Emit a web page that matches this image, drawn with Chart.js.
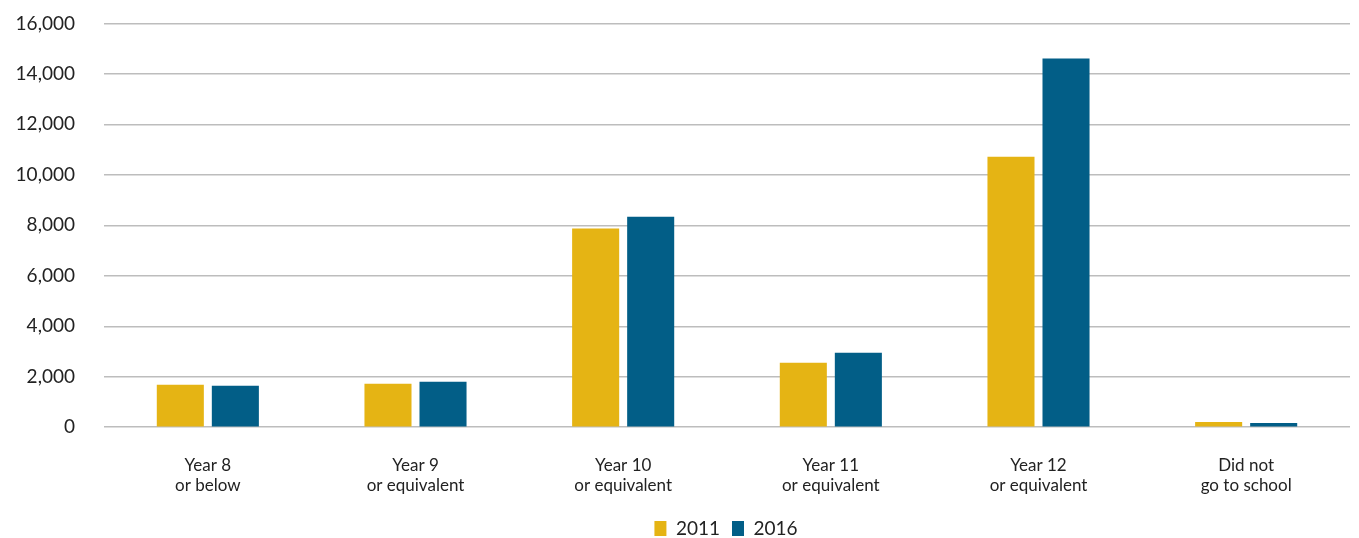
<!DOCTYPE html>
<html>
<head>
<meta charset="utf-8">
<script src="https://cdn.jsdelivr.net/npm/chart.js@4"></script>
<style>
  html, body { margin: 0; padding: 0; background: #fff; }
  #wrap { width: 1359px; height: 538px; }
</style>
</head>
<body>
<div id="wrap"><canvas id="myChart"></canvas></div>
<script>
const categories = [
  ['Year 8', 'or below'],
  ['Year 9', 'or equivalent'],
  ['Year 10', 'or equivalent'],
  ['Year 11', 'or equivalent'],
  ['Year 12', 'or equivalent'],
  ['Did not', 'go to school']
];
const values2011 = [1680, 1720, 7870, 2550, 10720, 210];
const values2016 = [1640, 1800, 8340, 2950, 14610, 170];
const yTicks = [0, 2000, 4000, 6000, 8000, 10000, 12000, 14000, 16000];

// legend takes less room than chart.js gives it, and sits centred under the plot
const legendShift = {
  id: 'legendShift',
  beforeUpdate(chart) {
    const lg = chart.legend;
    if (lg && !lg._squeezed) {
      const fit = lg.fit.bind(lg);
      lg.fit = function () { fit(); this.height -= 19; };
      lg._squeezed = true;
    }
  },
  afterLayout(chart) {
    const lg = chart.legend;
    lg.left += 51; lg.right += 51;
    lg.top -= 9;
  }
};

const ctx = document.getElementById('myChart');

new Chart(ctx, {
  type: 'bar',
  data: {
    labels: categories,
    datasets: [{
      label: '2011',
      data: values2011,
      backgroundColor: '#E5B414',
      categoryPercentage: 0.53,
      barPercentage: 0.855
    }, {
      label: '2016',
      data: values2016,
      backgroundColor: '#025E87',
      categoryPercentage: 0.53,
      barPercentage: 0.855
    }]
  },
  plugins: [legendShift],
  options: {
    responsive: true,
    maintainAspectRatio: false,
    animation: false,
    layout: { padding: { top: 0, right: 9, left: 0, bottom: 0 } },
    plugins: {
      tooltip: { enabled: false },
      legend: {
        position: 'bottom',
        labels: {
          boxWidth: 12,
          boxHeight: 15,
          padding: 12,
          color: '#222',
          font: { family: 'Lato', size: 19 }
        }
      }
    },
    scales: {
      x: {
        grid: { display: false },
        border: { display: false },
        ticks: {
          color: '#222',
          padding: 20,
          font: { family: 'Lato', size: 17, lineHeight: 1.2 }
        }
      },
      y: {
        min: 0,
        max: 16000,
        afterBuildTicks: (axis) => { axis.ticks = yTicks.map(v => ({ value: v })); },
        afterFit: (axis) => { axis.width = 104; },
        border: { display: false },
        grid: { color: '#bdbdbd', lineWidth: 1.5, drawTicks: true, tickLength: 17, tickColor: 'rgba(0,0,0,0)' },
        ticks: {
          color: '#222',
          padding: 12,
          font: { family: 'Lato', size: 19 }
        }
      }
    }
  }
});
</script>
</body>
</html>
